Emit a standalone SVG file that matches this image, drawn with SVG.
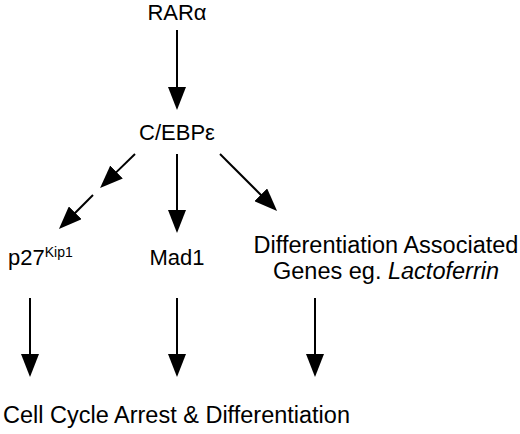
<svg xmlns="http://www.w3.org/2000/svg" width="520" height="434" viewBox="0 0 520 434">
<style>
text{font-family:"Liberation Sans",Arial,sans-serif;font-size:22px;fill:#000}
text.big{font-size:23.5px}
tspan.sup{font-size:14px}
.c{text-anchor:middle}
.ln{stroke:#000;stroke-width:2;fill:none;marker-end:url(#ah)}
</style>
<defs>
<marker id="ah" viewBox="0 -9 23 18" markerWidth="23" markerHeight="18" markerUnits="userSpaceOnUse" refX="2" refY="0" orient="auto">
<path d="M0,-9 L23,0 L0,9 Z" fill="#000"/>
</marker>
</defs>
<rect width="520" height="434" fill="#fff"/>
<g id="connectors">
<line class="ln" x1="177" y1="30" x2="177" y2="89"/>
<line class="ln" x1="135" y1="154" x2="115.1" y2="173.4"/>
<line class="ln" x1="93" y1="195" x2="73.8" y2="214.2"/>
<line class="ln" x1="177" y1="154" x2="177" y2="212"/>
<line class="ln" x1="220" y1="154" x2="262.2" y2="196.2"/>
<line class="ln" x1="30" y1="298" x2="30" y2="356"/>
<line class="ln" x1="177" y1="298" x2="177" y2="356"/>
<line class="ln" x1="315" y1="298" x2="315" y2="356"/>
</g>
<g id="rara"><text class="c" x="177" y="20">RARα</text></g>
<g id="cebpe"><text class="c" x="177" y="140">C/EBPε</text></g>
<g id="p27"><text x="8" y="265">p27<tspan class="sup" dy="-8">Kip1</tspan></text></g>
<g id="mad1"><text class="c" x="177" y="265">Mad1</text></g>
<g id="diffgenes"><text class="c big" x="386" y="253">Differentiation Associated</text><text class="c big" x="386" y="279">Genes eg. <tspan font-style="italic">Lactoferrin</tspan></text></g>
<g id="outcome"><text class="big" x="3" y="423">Cell Cycle Arrest &amp; Differentiation</text></g>
</svg>
